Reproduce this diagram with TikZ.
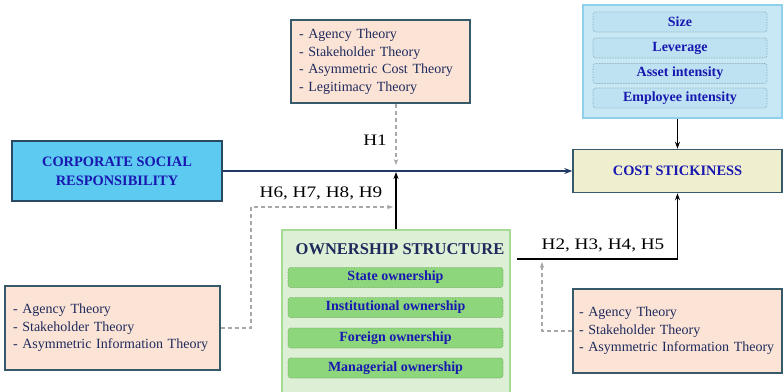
\documentclass[tikz,border=0pt]{standalone}
\usepackage{fontspec}
\setmainfont{Liberation Serif}
\newfontfamily\hfont[FakeStretch=1.2]{Liberation Serif}
\usetikzlibrary{arrows.meta,calc}
\definecolor{peach}{HTML}{FBE3D6}
\definecolor{slateb}{HTML}{375A6B}
\definecolor{navytxt}{HTML}{1F2A5C}
\definecolor{boldblue}{HTML}{1818B0}
\definecolor{csrfill}{HTML}{5DCAF2}
\definecolor{csrdraw}{HTML}{2A4A63}
\definecolor{costfill}{HTML}{EFEFD0}
\definecolor{ctrlfill}{HTML}{C9E8F6}
\definecolor{ctrldraw}{HTML}{8FD0EC}
\definecolor{ctrlin}{HTML}{BEE2F2}
\definecolor{ctrlindraw}{HTML}{7F9FAE}
\definecolor{ownfill}{HTML}{DDF0D5}
\definecolor{owndraw}{HTML}{A5DB95}
\definecolor{ownin}{HTML}{8DD67C}
\definecolor{ownindraw}{HTML}{6AA65A}
\definecolor{dashgray}{HTML}{A8A8A8}
\definecolor{darkarrow}{HTML}{203864}
\begin{document}
\begin{tikzpicture}[x=1pt,y=-1pt,
  theory/.style={rectangle, draw=slateb, line width=1.5pt, fill=peach, inner xsep=8pt, inner ysep=0pt,
    align=left, text=navytxt, font=\fontsize{14}{17.5}\selectfont},
  mainbox/.style={rectangle, line width=1.5pt, inner sep=0pt, align=center, text=boldblue,
    font=\fontsize{14.4}{19}\selectfont\bfseries},
  ctrlitem/.style={rectangle, rounded corners=2.5pt, draw=ctrlindraw, densely dotted, line width=0.6pt,
    fill=ctrlin, minimum width=174pt, minimum height=20pt, inner sep=0pt, text=boldblue,
    font=\fontsize{14}{16}\selectfont\bfseries},
  ownitem/.style={rectangle, rounded corners=2.5pt, draw=ownindraw, densely dotted, line width=0.6pt,
    fill=ownin, minimum width=215pt, minimum height=20pt, inner sep=0pt, text=boldblue,
    font=\fontsize{14}{16}\selectfont\bfseries},
  hlabel/.style={inner sep=0pt, text=black, font=\hfont\fontsize{16}{18}\selectfont},
  blk/.style={draw=black, line width=1.4pt, -{Stealth[length=7pt,width=5pt]}},
  gdash/.style={draw=dashgray, line width=1.3pt, dash pattern=on 4pt off 3pt},
  gtip/.style={-{Stealth[length=6pt,width=4.5pt]}},
]
\clip (0,0) rectangle (784,391);
\fill[white] (0,0) rectangle (784,391);

% theory boxes
\node[theory, text width=163pt, minimum height=83pt] (tt) at (380.5,61.5)
  {- Agency Theory\\- Stakeholder Theory\\- Asymmetric Cost Theory\\- Legitimacy Theory};
\node[theory, text width=199pt, minimum height=84pt] (lt) at (112.5,328)
  {- Agency Theory\\- Stakeholder Theory\\- Asymmetric Information Theory};
\node[theory, inner xsep=6pt, text width=197pt, minimum height=84pt] (rt) at (677.5,331)
  {- Agency Theory\\- Stakeholder Theory\\- Asymmetric Information Theory};

% controls
\node[rectangle, draw=ctrldraw, line width=1.5pt, fill=ctrlfill, minimum width=199pt, minimum height=113pt] (ctrl) at (682.5,61.5) {};
\node[ctrlitem] (c1) at (680,22) {Size};
\node[ctrlitem] (c2) at (680,48) {Leverage};
\node[ctrlitem] (c3) at (680,73.5) {Asset intensity};
\node[ctrlitem] (c4) at (680,98) {Employee intensity};

% main boxes
\node[mainbox, draw=csrdraw, fill=csrfill, minimum width=210pt, minimum height=60pt] (csr) at (117,171)
  {CORPORATE SOCIAL\\RESPONSIBILITY};
\node[mainbox, draw=slateb, fill=costfill, minimum width=209pt, minimum height=43pt] (cost) at (677.5,171)
  {COST STICKINESS};

% ownership
\node[rectangle, draw=owndraw, line width=1.5pt, fill=ownfill, minimum width=228pt, minimum height=170pt] (own) at (396,315) {};
\node[inner sep=0pt, text=navytxt, font=\fontsize{16.5}{18}\selectfont\bfseries] (ownt) at (400,249) {OWNERSHIP STRUCTURE};
\node[ownitem] (o1) at (395.5,277.5) {State ownership};
\node[ownitem] (o2) at (395.5,307.5) {Institutional ownership};
\node[ownitem] (o3) at (395.5,338) {Foreign ownership};
\node[ownitem] (o4) at (395.5,368) {Managerial ownership};

% labels
\node[hlabel] (h1) at (375,140) {H1};
\node[hlabel] (h6) at (321,193) {H6, H7, H8, H9};
\node[hlabel] (h2) at (603,245) {H2, H3, H4, H5};

% coordinates
\coordinate (h1e) at (396,165);
\coordinate (lcorner) at (251,207);
\coordinate (h6e) at (393,207);
\coordinate (h2s) at (517,259);
\coordinate (rcorner) at (542,262);

% connectors
\draw[draw=darkarrow, line width=2pt, -{Stealth[length=8pt,width=6pt]}] (csr.east) -- (cost.west);
\draw[blk] (ctrl.south -| cost.north) -- (cost.north);
\draw[gdash, gtip] (tt.south -| h1e) -- (h1e);
\draw[blk] (own.north) -- ($(own.north |- csr.east)+(0,1)$);
\draw[gdash, gtip] (lt.east) -| (lcorner) -- (h6e);
\draw[blk] (h2s) -| (cost.south);
\draw[gdash, gtip] (rt.west) -| (rcorner);
\end{tikzpicture}
\end{document}
